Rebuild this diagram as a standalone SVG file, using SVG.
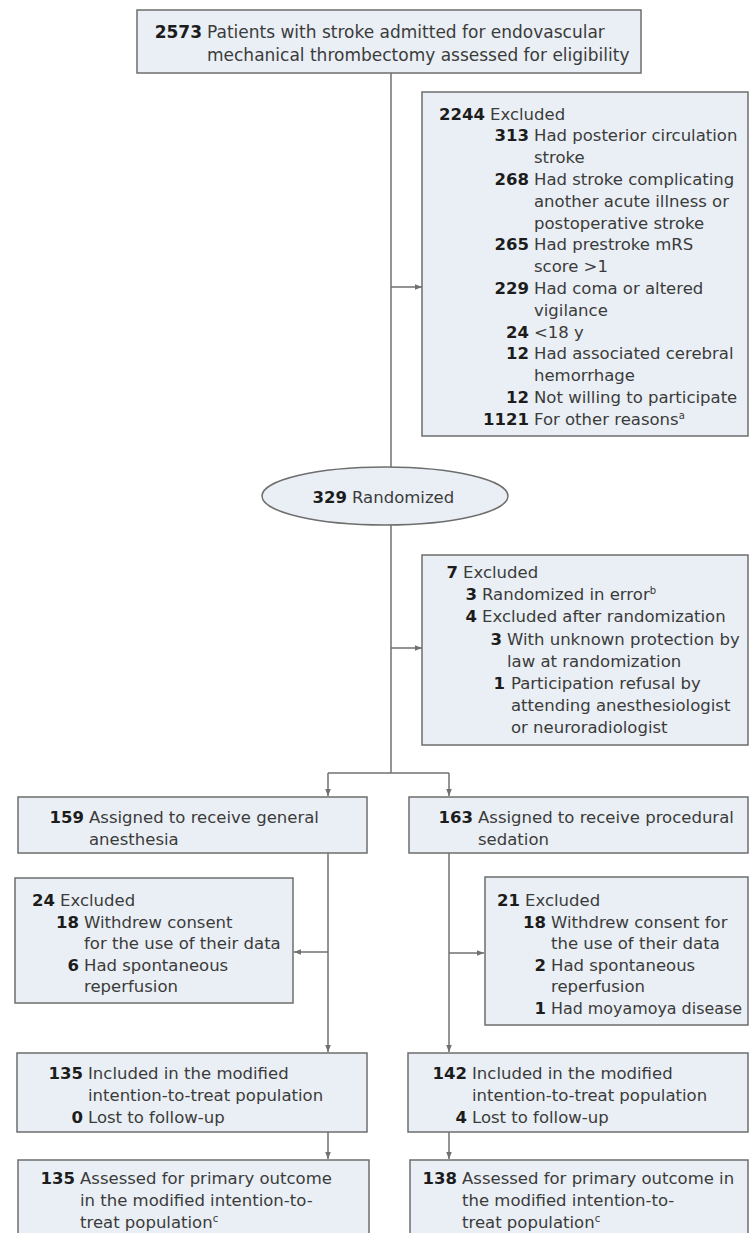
<svg xmlns="http://www.w3.org/2000/svg" width="750" height="1233" viewBox="0 0 750 1233">
<style>
.bg{fill:#ffffff}
.box{fill:#e9eff4;stroke:#6e6e6e;stroke-width:1.5}
.t{font-family:"DejaVu Sans","Liberation Sans",sans-serif;font-size:16.5px;fill:#3b3b3b}
.n{font-family:"DejaVu Sans","Liberation Sans",sans-serif;font-size:16.5px;font-weight:bold;fill:#1c1c1c;text-anchor:end}
.big{font-size:17px}
.sup{font-size:10px}
.conn path{fill:none;stroke:#707070;stroke-width:1.5}
</style>
<defs>
<marker id="ah" viewBox="0 0 8 8" refX="8" refY="4" markerWidth="7" markerHeight="7" markerUnits="userSpaceOnUse" orient="auto">
<path d="M0,0.8 L8,4 L0,7.2 z" fill="#707070"/>
</marker>
</defs>
<rect class="bg" x="0" y="0" width="750" height="1233"/>

<g id="connectors" class="conn">
<path d="M391,73 V468"/>
<path d="M391,287 H422" marker-end="url(#ah)"/>
<path d="M391,525 V773"/>
<path d="M391,648 H422" marker-end="url(#ah)"/>
<path d="M328,773 H449"/>
<path d="M328,773 V796" marker-end="url(#ah)"/>
<path d="M449,773 V796" marker-end="url(#ah)"/>
<path d="M328,853 V1052" marker-end="url(#ah)"/>
<path d="M328,952 H294" marker-end="url(#ah)"/>
<path d="M449,853 V1052" marker-end="url(#ah)"/>
<path d="M449,953 H484" marker-end="url(#ah)"/>
<path d="M328,1132 V1159" marker-end="url(#ah)"/>
<path d="M449,1132 V1159" marker-end="url(#ah)"/>
</g>

<g id="assessed">
<rect class="box" x="137" y="10" width="504" height="63"/>
<text class="n big" x="202" y="38">2573</text>
<text class="t big" x="207" y="38">Patients with stroke admitted for endovascular</text>
<text class="t big" x="207" y="61">mechanical thrombectomy assessed for eligibility</text>
</g>

<g id="excluded1">
<rect class="box" x="422" y="92" width="326" height="344"/>
<text class="n" x="485" y="119.5">2244</text>
<text class="t" x="490" y="119.5">Excluded</text>
<text class="n" x="529" y="141.3">313</text>
<text class="t" x="534" y="141.3">Had posterior circulation</text>
<text class="t" x="534" y="163.1">stroke</text>
<text class="n" x="529" y="184.9">268</text>
<text class="t" x="534" y="184.9">Had stroke complicating</text>
<text class="t" x="534" y="206.7">another acute illness or</text>
<text class="t" x="534" y="228.5">postoperative stroke</text>
<text class="n" x="529" y="250.3">265</text>
<text class="t" x="534" y="250.3">Had prestroke mRS</text>
<text class="t" x="534" y="272.1">score &gt;1</text>
<text class="n" x="529" y="293.9">229</text>
<text class="t" x="534" y="293.9">Had coma or altered</text>
<text class="t" x="534" y="315.7">vigilance</text>
<text class="n" x="529" y="337.5">24</text>
<text class="t" x="534" y="337.5">&lt;18 y</text>
<text class="n" x="529" y="359.3">12</text>
<text class="t" x="534" y="359.3">Had associated cerebral</text>
<text class="t" x="534" y="381.1">hemorrhage</text>
<text class="n" x="529" y="402.9">12</text>
<text class="t" x="534" y="402.9">Not willing to participate</text>
<text class="n" x="529" y="424.7">1121</text>
<text class="t" x="534" y="424.7">For other reasons<tspan class="sup" dy="-6">a</tspan></text>
</g>

<g id="randomized">
<ellipse class="box" cx="385" cy="496" rx="123" ry="29"/>
<text class="n" x="347" y="503">329</text>
<text class="t" x="352" y="503">Randomized</text>
</g>

<g id="excluded2">
<rect class="box" x="422" y="555" width="326" height="190"/>
<text class="n" x="458" y="578">7</text>
<text class="t" x="463" y="578">Excluded</text>
<text class="n" x="477" y="600.2">3</text>
<text class="t" x="482" y="600.2">Randomized in error<tspan class="sup" dy="-6">b</tspan></text>
<text class="n" x="477" y="622.4">4</text>
<text class="t" x="482" y="622.4">Excluded after randomization</text>
<text class="n" x="502" y="644.6">3</text>
<text class="t" x="507" y="644.6">With unknown protection by</text>
<text class="t" x="507" y="666.8">law at randomization</text>
<text class="n" x="505" y="689">1</text>
<text class="t" x="511" y="689">Participation refusal by</text>
<text class="t" x="511" y="711.2">attending anesthesiologist</text>
<text class="t" x="511" y="733.4">or neuroradiologist</text>
</g>

<g id="general">
<rect class="box" x="18" y="797" width="349" height="56"/>
<text class="n" x="84" y="823">159</text>
<text class="t" x="89" y="823">Assigned to receive general</text>
<text class="t" x="89" y="845">anesthesia</text>
</g>

<g id="sedation">
<rect class="box" x="409" y="797" width="339" height="56"/>
<text class="n" x="473" y="823">163</text>
<text class="t" x="478" y="823">Assigned to receive procedural</text>
<text class="t" x="478" y="845">sedation</text>
</g>

<g id="excludedGA">
<rect class="box" x="15" y="878" width="278" height="125"/>
<text class="n" x="55" y="906">24</text>
<text class="t" x="60" y="906">Excluded</text>
<text class="n" x="79" y="927.5">18</text>
<text class="t" x="84" y="927.5">Withdrew consent</text>
<text class="t" x="84" y="949">for the use of their data</text>
<text class="n" x="79" y="970.5">6</text>
<text class="t" x="84" y="970.5">Had spontaneous</text>
<text class="t" x="84" y="992">reperfusion</text>
</g>

<g id="excludedPS">
<rect class="box" x="485" y="877" width="263" height="148"/>
<text class="n" x="520" y="906">21</text>
<text class="t" x="525" y="906">Excluded</text>
<text class="n" x="546" y="927.5">18</text>
<text class="t" x="551" y="927.5">Withdrew consent for</text>
<text class="t" x="551" y="949">the use of their data</text>
<text class="n" x="546" y="970.5">2</text>
<text class="t" x="551" y="970.5">Had spontaneous</text>
<text class="t" x="551" y="992">reperfusion</text>
<text class="n" x="546" y="1013.5">1</text>
<text class="t" x="551" y="1013.5" textLength="191" lengthAdjust="spacingAndGlyphs">Had moyamoya disease</text>
</g>

<g id="mittGA">
<rect class="box" x="17" y="1053" width="350" height="79"/>
<text class="n" x="83" y="1079">135</text>
<text class="t" x="88" y="1079">Included in the modified</text>
<text class="t" x="88" y="1101">intention-to-treat population</text>
<text class="n" x="83" y="1123">0</text>
<text class="t" x="88" y="1123">Lost to follow-up</text>
</g>

<g id="mittPS">
<rect class="box" x="408" y="1053" width="340" height="79"/>
<text class="n" x="467" y="1079">142</text>
<text class="t" x="472" y="1079">Included in the modified</text>
<text class="t" x="472" y="1101">intention-to-treat population</text>
<text class="n" x="467" y="1123">4</text>
<text class="t" x="472" y="1123">Lost to follow-up</text>
</g>

<g id="primaryGA">
<rect class="box" x="18" y="1160" width="351" height="85"/>
<text class="n" x="75" y="1184">135</text>
<text class="t" x="80" y="1184">Assessed for primary outcome</text>
<text class="t" x="80" y="1206">in the modified intention-to-</text>
<text class="t" x="80" y="1228">treat population<tspan class="sup" dy="-6">c</tspan></text>
</g>

<g id="primaryPS">
<rect class="box" x="410" y="1160" width="338" height="85"/>
<text class="n" x="457" y="1184">138</text>
<text class="t" x="462" y="1184">Assessed for primary outcome in</text>
<text class="t" x="462" y="1206">the modified intention-to-</text>
<text class="t" x="462" y="1228">treat population<tspan class="sup" dy="-6">c</tspan></text>
</g>
</svg>
